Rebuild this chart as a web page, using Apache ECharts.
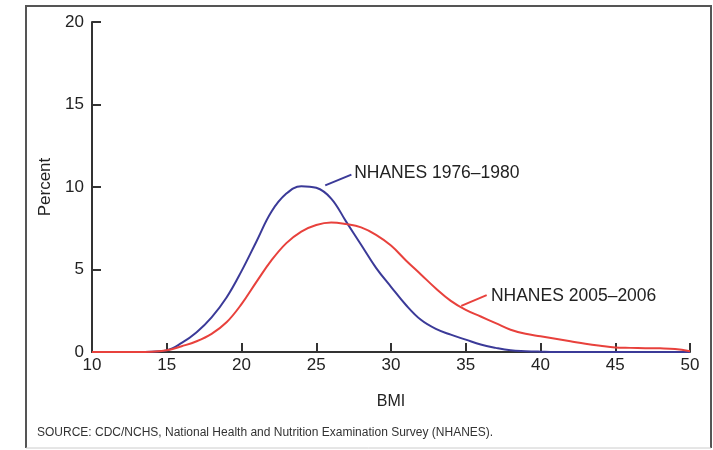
<!DOCTYPE html>
<html>
<head>
<meta charset="utf-8">
<script src="https://cdn.jsdelivr.net/npm/echarts@6/dist/echarts.min.js"></script>
<style>
  html, body { margin: 0; padding: 0; background: #fff; }
  #chart { width: 713px; height: 450px; }
</style>
</head>
<body>
<div id="chart"></div>
<script>
// BMI values (x axis)
const bmi = [10, 11, 12, 13, 14, 15, 16, 17, 18, 19, 20, 21, 22, 23, 24, 25, 26, 27, 28, 29, 30,
  31, 32, 33, 34, 35, 36, 37, 38, 39, 40, 41, 42, 43, 44, 45, 46, 47, 48, 49, 50]
// percent of adults, NHANES 1976-1980
const pct1976 = [0, 0, 0, 0, 0.02, 0.1, 0.55, 1.2, 2.1, 3.3, 4.9, 6.7, 8.5, 9.6, 10.05, 9.95, 9.3, 7.9, 6.5, 5.1, 3.95,
  2.85, 1.95, 1.4, 1.05, 0.75, 0.45, 0.25, 0.1, 0.05, 0.02, 0, 0, 0, 0, 0, 0, 0, 0, 0, 0]
// percent of adults, NHANES 2005-2006
const pct2005 = [0, 0, 0, 0, 0.02, 0.1, 0.35, 0.65, 1.1, 1.8, 2.9, 4.25, 5.55, 6.6, 7.3, 7.7, 7.85, 7.75, 7.55, 7.1, 6.45,
  5.55, 4.7, 3.85, 3.1, 2.55, 2.15, 1.75, 1.35, 1.1, 0.95, 0.8, 0.65, 0.5, 0.38, 0.28, 0.25, 0.23, 0.22, 0.18, 0.05]

const seriesNames = ['NHANES 1976\u20131980', 'NHANES 2005\u20132006']
// leader line [from, to] and label anchor, in data units
const leaders = [
  [[25.6, 10.1], [27.35, 10.75]],
  [[34.7, 2.8], [36.4, 3.45]]
]
const labelAt = [[27.4, 10.82], [36.55, 3.36]]

const FONT = 'Liberation Sans, Arial, sans-serif'
const chart = echarts.init(document.getElementById('chart'))

function makeSeries(i, values, color) {
  return {
    name: seriesNames[i],
    type: 'line',
    data: bmi.map((x, k) => [x, values[k]]),
    smooth: 0.4,
    showSymbol: false,
    lineStyle: { color: color, width: 2 },
    z: 3,
    markLine: {
      silent: true,
      symbol: ['none', 'none'],
      label: { show: false },
      lineStyle: { color: color, width: 2, type: 'solid' },
      data: [[{ coord: leaders[i][0] }, { coord: leaders[i][1] }]]
    },
    markPoint: {
      silent: true,
      symbol: 'circle',
      symbolSize: 0,
      label: {
        show: true,
        position: 'right',
        distance: 2,
        formatter: seriesNames[i],
        color: '#222',
        fontSize: 17.5,
        fontFamily: FONT
      },
      data: [{ coord: labelAt[i] }]
    }
  }
}

const option = {
  animation: false,
  backgroundColor: '#fff',
  grid: { left: 92, right: 23, top: 22, bottom: 98 },
  xAxis: {
    type: 'value',
    min: 10,
    max: 50,
    interval: 5,
    name: 'BMI',
    nameLocation: 'middle',
    nameGap: 42,
    nameTextStyle: { color: '#222', fontSize: 16, fontFamily: FONT },
    axisLine: { onZero: false, lineStyle: { color: '#333', width: 2 } },
    axisTick: { inside: true, length: 9, lineStyle: { color: '#333', width: 2 } },
    axisLabel: { color: '#222', fontSize: 17, fontFamily: FONT, margin: 5 },
    splitLine: { show: false }
  },
  yAxis: {
    type: 'value',
    min: 0,
    max: 20,
    interval: 5,
    name: 'Percent',
    nameLocation: 'middle',
    nameGap: 38,
    nameTextStyle: { color: '#222', fontSize: 17, fontFamily: FONT },
    axisLine: { show: true, lineStyle: { color: '#333', width: 2 } },
    axisTick: { show: true, inside: true, length: 9, lineStyle: { color: '#333', width: 2 } },
    axisLabel: { color: '#222', fontSize: 17, fontFamily: FONT, margin: 8 },
    splitLine: { show: false }
  },
  graphic: [
    {
      type: 'polyline',
      shape: { points: [[26, 448], [26, 6], [711, 6], [711, 448]] },
      style: { fill: 'none', stroke: '#555', lineWidth: 2 },
      silent: true
    },
    {
      type: 'line',
      shape: { x1: 26, y1: 448, x2: 711, y2: 448 },
      style: { stroke: '#ccc', lineWidth: 1 },
      silent: true
    },
    {
      type: 'text',
      left: 37, top: 427,
      style: {
        text: 'SOURCE: CDC/NCHS, National Health and Nutrition Examination Survey (NHANES).',
        fill: '#333',
        fontSize: 12,
        fontFamily: FONT
      }
    }
  ],
  series: [
    makeSeries(0, pct1976, '#3b3a98'),
    makeSeries(1, pct2005, '#e8413c')
  ]
}

chart.setOption(option)
</script>
</body>
</html>
